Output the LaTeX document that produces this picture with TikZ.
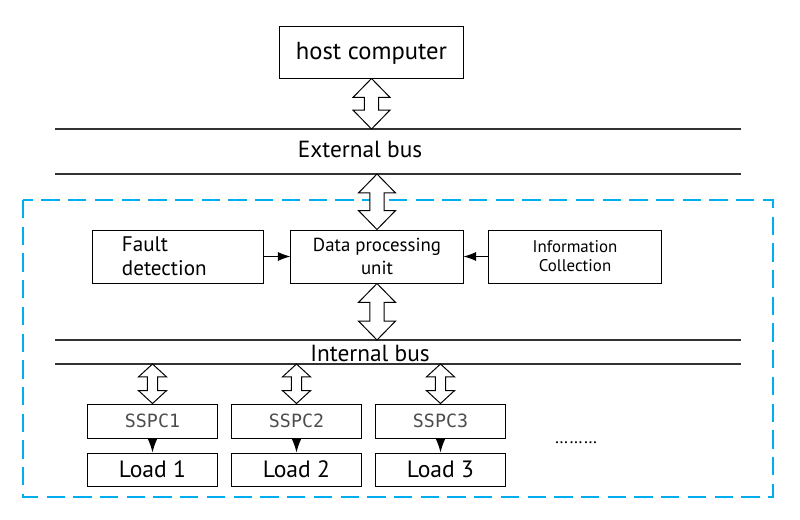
\documentclass[tikz,border=0pt]{standalone}
\usepackage{fontspec}
\setmainfont{PT Sans}
\newfontfamily\sspcfont{DejaVu Sans Mono}
\usetikzlibrary{arrows.meta,calc}

\definecolor{framecyan}{RGB}{0,174,239}

\tikzset{
  box/.style={draw, line width=0.7pt, inner sep=0pt, align=center},
  busline/.style={draw=black!80, line width=0.8pt},
  hollow/.style={draw, line width=0.7pt, fill=white},
  feed/.style={line width=0.7pt, -{Latex[length=9pt,width=6.5pt]}},
}

\newcommand{\bidir}[5]{%
  \path[hollow] let \p1=(#1), \p2=(#2) in
    (\p1) -- (\x1+#3,\y1-#5) -- (\x1+#4,\y1-#5) -- (\x1+#4,\y2+#5) -- (\x1+#3,\y2+#5)
    -- (\x1,\y2) -- (\x1-#3,\y2+#5) -- (\x1-#4,\y2+#5) -- (\x1-#4,\y1-#5) -- (\x1-#3,\y1-#5) -- cycle;}

\begin{document}
\begin{tikzpicture}[x=0.025cm, y=-0.025cm]
\useasboundingbox (0,0) rectangle (800,519);

\node[box, minimum width=4.575cm, minimum height=1.3cm, text depth=0.35ex, font=\fontsize{17.5}{20}\selectfont] (host) at (371.5,52) {host computer};

\coordinate (ext1) at (55,129);
\coordinate (ext1e) at (741,129);
\coordinate (ext2) at (55,174);
\coordinate (ext2e) at (741,174);
\coordinate (int1) at (55,340);
\coordinate (int1e) at (741,340);
\coordinate (int2) at (55,364);
\coordinate (int2e) at (741,364);

\draw[busline] (ext1) -- (ext1e);
\draw[busline] (ext2) -- (ext2e);
\draw[busline] (int1) -- (int1e);
\draw[busline] (int2) -- (int2e);
\node[font=\fontsize{16.6}{19}\selectfont] (extbus) at (360,149) {External bus};
\node[font=\fontsize{16.6}{19}\selectfont] (intbus) at (370,353) {Internal bus};

\draw[framecyan, line width=1.4pt, dash pattern=on 13pt off 6pt] (23,200) rectangle (773,497);

\node[box, text width=2.8cm, inner xsep=0.725cm, minimum height=1.325cm, align=left, font=\fontsize{15}{17}\selectfont] (fault) at (178,256.5) {Fault\\detection};
\node[box, minimum width=4.3cm, minimum height=1.325cm, font=\fontsize{13.4}{16.4}\selectfont] (data) at (377,256.5) {Data processing\\unit};
\node[box, minimum width=4.3cm, minimum height=1.325cm, font=\fontsize{12}{13.5}\selectfont] (info) at (575,256.5) {Information\\Collection};

\draw[feed] (fault) -- (data);
\draw[feed] (info) -- (data);

\bidir{host.south}{host.south |- ext1}{13.2pt}{5pt}{13.5pt}
\bidir{data.north |- ext2}{data.north}{13.2pt}{5pt}{13.5pt}
\bidir{data.south}{data.south |- int1}{13.2pt}{5pt}{13.5pt}

\foreach \i/\x in {1/152.5,2/296.5,3/440.5}{
  \node[box, minimum width=3.225cm, minimum height=0.85cm, text=black!70, font={\sspcfont\fontsize{13}{15}\selectfont}] (sspc\i) at (\x,421) {SSPC\i};
  \node[box, minimum width=3.225cm, minimum height=0.825cm, font=\fontsize{16.8}{19}\selectfont] (load\i) at (\x,469.5) {Load \i};
  \draw[line width=0.7pt, -{Latex[length=10pt,width=7pt]}] (sspc\i) -- (load\i);
  \bidir{sspc\i.north |- int2}{sspc\i.north}{10pt}{3.6pt}{9.2pt}
}

\node[font=\fontsize{12.5}{14}\selectfont] (more) at (576,443) {………};
\end{tikzpicture}
\end{document}
